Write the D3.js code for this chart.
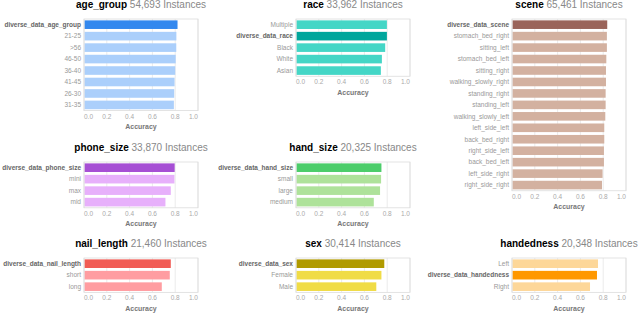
<!DOCTYPE html>
<html>
<head>
<meta charset="utf-8">
<script src="https://cdn.jsdelivr.net/npm/d3@7"></script>
<style>
  body { margin: 0; background: #fff; }
  svg { font-family: "Liberation Sans", Arial, sans-serif; }
</style>
</head>
<body>
<div id="chart"></div>
<script>
// ---- data ----
const ageGroupCats = ["diverse_data_age_group", "21-25", ">56", "46-50", "36-40", "41-45", "26-30", "31-35"];
const ageGroupVals = [0.816, 0.806, 0.805, 0.800, 0.796, 0.790, 0.787, 0.784];

const raceCats = ["Multiple", "diverse_data_race", "Black", "White", "Asian"];
const raceVals = [0.793, 0.793, 0.778, 0.749, 0.740];

const sceneCats = ["diverse_data_scene", "stomach_bed_right", "sitting_left", "stomach_bed_left", "sitting_right",
  "walking_slowly_right", "standing_right", "standing_left", "walking_slowly_left", "left_side_left",
  "back_bed_right", "right_side_left", "back_bed_left", "left_side_right", "right_side_right"];
const sceneVals = [0.831, 0.828, 0.828, 0.823, 0.820, 0.820, 0.817, 0.817, 0.814, 0.805, 0.805, 0.802, 0.802, 0.790, 0.785];

const phoneSizeCats = ["diverse_data_phone_size", "mini", "max", "mid"];
const phoneSizeVals = [0.791, 0.789, 0.757, 0.710];

const handSizeCats = ["diverse_data_hand_size", "small", "large", "medium"];
const handSizeVals = [0.745, 0.742, 0.733, 0.678];

const nailLengthCats = ["diverse_data_nail_length", "short", "long"];
const nailLengthVals = [0.757, 0.748, 0.678];

const sexCats = ["diverse_data_sex", "Female", "Male"];
const sexVals = [0.770, 0.745, 0.700];

const handednessCats = ["Left", "diverse_data_handedness", "Right"];
const handednessVals = [0.750, 0.741, 0.680];

const instanceCounts = ["54,693", "33,962", "65,461", "33,870", "20,325", "21,460", "30,414", "20,348"];
const xTicks = [0, 0.2, 0.4, 0.6, 0.8, 1.0];

// panel layout
const colX = [84, 296, 512];
const rowTop = [19, 162, 258];
const plotW = 114;
const step = 11.45;

const panels = [
  {name: "age_group", cats: ageGroupCats, vals: ageGroupVals, n: instanceCounts[0], col: 0, row: 0, dark: "#3388ee", light: "#abcffb"},
  {name: "race", cats: raceCats, vals: raceVals, n: instanceCounts[1], col: 1, row: 0, dark: "#00a69c", light: "#44d6c6"},
  {name: "scene", cats: sceneCats, vals: sceneVals, n: instanceCounts[2], col: 2, row: 0, dark: "#9a645a", light: "#d3b1a0"},
  {name: "phone_size", cats: phoneSizeCats, vals: phoneSizeVals, n: instanceCounts[3], col: 0, row: 1, dark: "#a64fd4", light: "#e7b0fb"},
  {name: "hand_size", cats: handSizeCats, vals: handSizeVals, n: instanceCounts[4], col: 1, row: 1, dark: "#4ccd6a", light: "#aee29a"},
  {name: "nail_length", cats: nailLengthCats, vals: nailLengthVals, n: instanceCounts[5], col: 0, row: 2, dark: "#f15c55", light: "#ff9da1"},
  {name: "sex", cats: sexCats, vals: sexVals, n: instanceCounts[6], col: 1, row: 2, dark: "#b09a00", light: "#f0dc46"},
  {name: "handedness", cats: handednessCats, vals: handednessVals, n: instanceCounts[7], col: 2, row: 2, dark: "#ff9800", light: "#fdd799"}
];

const svg = d3.select("#chart").append("svg")
  .attr("width", 640)
  .attr("height", 313);

panels.forEach(function(p) {
  const x0 = colX[p.col], y0 = rowTop[p.row];
  const h = step * p.cats.length;

  const x = d3.scaleLinear().domain([0, 1]).range([0, plotW]);
  const y = d3.scaleBand().domain(p.cats).range([0, h]).paddingInner(0.25).paddingOuter(0.12);

  const g = svg.append("g").attr("transform", "translate(" + x0 + "," + y0 + ")");

  // title
  const title = g.append("text")
    .attr("x", plotW / 2)
    .attr("y", -11.5)
    .attr("text-anchor", "middle")
    .style("font-size", "10px");
  title.append("tspan").attr("font-weight", "bold").attr("fill", "#000").text(p.name);
  title.append("tspan").attr("fill", "#888").text(" " + p.n + " Instances");

  // grid
  g.selectAll(".grid").data(xTicks).enter().append("line")
    .attr("x1", d => x(d)).attr("x2", d => x(d))
    .attr("y1", 0).attr("y2", h)
    .attr("stroke", "#e6e6e6").attr("stroke-width", 0.8);

  // bars
  g.selectAll(".bar").data(p.cats).enter().append("rect")
    .attr("x", 0.5)
    .attr("y", d => y(d))
    .attr("width", (d, i) => x(p.vals[i]))
    .attr("height", y.bandwidth())
    .attr("fill", d => d.indexOf("diverse_data") === 0 ? p.dark : p.light);

  // frame
  g.append("rect")
    .attr("width", plotW).attr("height", h)
    .attr("fill", "none").attr("stroke", "#dcdcdc").attr("stroke-width", 0.8);

  // category labels
  g.selectAll(".lab").data(p.cats).enter().append("text")
    .attr("x", -3)
    .attr("y", d => y(d) + y.bandwidth() / 2)
    .attr("dy", "0.35em")
    .attr("text-anchor", "end")
    .style("font-size", "6.5px")
    .attr("font-weight", d => d.indexOf("diverse_data") === 0 ? "bold" : "normal")
    .attr("fill", d => d.indexOf("diverse_data") === 0 ? "#666" : "#999")
    .text(d => d);

  // x tick labels
  g.selectAll(".tick").data(xTicks).enter().append("text")
    .attr("x", d => x(d))
    .attr("y", h + 8)
    .attr("text-anchor", (d, i) => i === 0 ? "start" : (i === xTicks.length - 1 ? "end" : "middle"))
    .style("font-size", "6.5px")
    .attr("fill", "#aaa")
    .text(d3.format(".1f"));

  // axis title
  g.append("text")
    .attr("x", plotW / 2)
    .attr("y", h + 18.5)
    .attr("text-anchor", "middle")
    .style("font-size", "7px")
    .attr("font-weight", "bold")
    .attr("fill", "#777")
    .text("Accuracy");
});
</script>
</body>
</html>
